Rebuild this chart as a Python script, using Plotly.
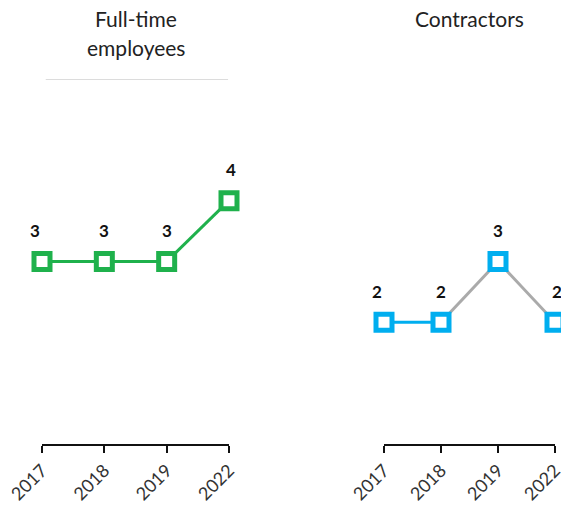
import plotly.graph_objects as go

years = ["2017", "2018", "2019", "2022"]
fte_values = [3, 3, 3, 4]
contractor_values = [2, 2, 3, 2]
fte_segment_colors = ["#1fb14c", "#1fb14c", "#1fb14c"]
contractor_segment_colors = ["#00aeef", "#aaaaaa", "#aaaaaa"]

GREEN = "#1fb14c"
BLUE = "#00aeef"
FONT = "Lato"
LABEL_XSHIFT = [-7, 0, 0, 2]

W, H = 561, 510
fig = go.Figure()

panels = [
    ("x", "y", fte_values, fte_segment_colors, GREEN),
    ("x2", "y2", contractor_values, contractor_segment_colors, BLUE),
]
xs = list(range(len(years)))
for xa, ya, vals, segcols, mcol in panels:
    for i, c in enumerate(segcols):
        fig.add_trace(go.Scatter(
            x=xs[i:i + 2], y=vals[i:i + 2], mode="lines",
            line=dict(color=c, width=3), xaxis=xa, yaxis=ya,
            cliponaxis=False, showlegend=False, hoverinfo="skip"))
    fig.add_trace(go.Scatter(
        x=xs, y=vals, mode="markers",
        marker=dict(symbol="square", size=16, color="white",
                    line=dict(color=mcol, width=5)),
        xaxis=xa, yaxis=ya, cliponaxis=False, showlegend=False))
    for xi, v, sh in zip(xs, vals, LABEL_XSHIFT):
        fig.add_annotation(x=xi, y=v, xref=xa, yref=ya, text=f"<b>{v}</b>",
                           showarrow=False, yshift=31, xshift=sh,
                           font=dict(family=FONT, size=17, color="#111"))

axis_common = dict(
    range=[0, 3], tickmode="array", tickvals=xs, ticktext=years,
    tickangle=-45, showgrid=False, zeroline=False, showline=True,
    linecolor="#111", linewidth=2, ticks="outside", ticklen=7,
    tickwidth=2, tickcolor="#111", automargin=False,
    ticklabeloverflow="allow",
    tickfont=dict(family=FONT, size=18, color="#333"), fixedrange=True)
yd = [(H - 444) / H, (H - 79) / H]
y_common = dict(range=[0, 6], domain=yd, visible=False, fixedrange=True,
                automargin=False)

fig.update_layout(
    width=W, height=H, margin=dict(l=0, r=0, t=0, b=0, autoexpand=False),
    paper_bgcolor="white", plot_bgcolor="white",
    xaxis=dict(domain=[42 / W, 229 / W], anchor="y", **axis_common),
    xaxis2=dict(domain=[384 / W, 555 / W], anchor="y2", **axis_common),
    yaxis=dict(anchor="x", **y_common),
    yaxis2=dict(anchor="x2", **y_common),
)

# top divider lines
fig.add_shape(type="line", xref="x domain", yref="y", x0=0.02, x1=0.995,
              y0=6, y1=6, line=dict(color="#dcdcdc", width=2))
fig.add_shape(type="line", xref="x2 domain", yref="y2", x0=-0.025, x1=1.04,
              y0=6.03, y1=6.03, line=dict(color="#dcdcdc", width=2))

# panel titles
title_font = dict(family=FONT, size=21, color="#222")
fig.add_annotation(xref="x domain", yref="paper", x=0.5, y=1 - 19 / H,
                   yanchor="middle", text="Full-time", showarrow=False,
                   font=title_font)
fig.add_annotation(xref="x domain", yref="paper", x=0.5, y=1 - 47 / H,
                   yanchor="middle", text="employees", showarrow=False,
                   font=title_font)
fig.add_annotation(xref="x2 domain", yref="paper", x=0.5, y=1 - 19 / H,
                   yanchor="middle", text="Contractors", showarrow=False,
                   font=title_font)

fig.write_html("out.html")
